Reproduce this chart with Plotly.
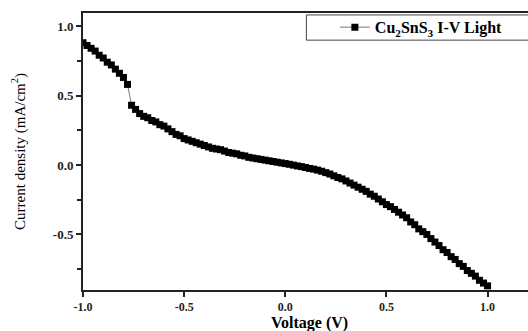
import plotly.graph_objects as go

# I-V sweep under illumination
voltage = [
    -1.00, -0.98, -0.96, -0.94, -0.92, -0.90, -0.88, -0.86, -0.84, -0.82,
    -0.80, -0.78, -0.76, -0.74, -0.72, -0.70, -0.68, -0.66, -0.64, -0.62,
    -0.60, -0.58, -0.56, -0.54, -0.52, -0.50, -0.48, -0.46, -0.44, -0.42,
    -0.40, -0.38, -0.36, -0.34, -0.32, -0.30, -0.28, -0.26, -0.24, -0.22,
    -0.20, -0.18, -0.16, -0.14, -0.12, -0.10, -0.08, -0.06, -0.04, -0.02,
    0.00, 0.02, 0.04, 0.06, 0.08, 0.10, 0.12, 0.14, 0.16, 0.18,
    0.20, 0.22, 0.24, 0.26, 0.28, 0.30, 0.32, 0.34, 0.36, 0.38,
    0.40, 0.42, 0.44, 0.46, 0.48, 0.50, 0.52, 0.54, 0.56, 0.58,
    0.60, 0.62, 0.64, 0.66, 0.68, 0.70, 0.72, 0.74, 0.76, 0.78,
    0.80, 0.82, 0.84, 0.86, 0.88, 0.90, 0.92, 0.94, 0.96, 0.98,
    1.00,
]
current_density = [
    0.88, 0.86, 0.84, 0.82, 0.79, 0.77, 0.74, 0.72, 0.69, 0.66,
    0.63, 0.58, 0.43, 0.40, 0.37, 0.35, 0.34, 0.32, 0.31, 0.29,
    0.28, 0.26, 0.24, 0.22, 0.21, 0.19, 0.18, 0.17, 0.16, 0.15,
    0.14, 0.13, 0.12, 0.115, 0.11, 0.10, 0.09, 0.085, 0.08, 0.07,
    0.065, 0.055, 0.05, 0.045, 0.04, 0.035, 0.03, 0.025, 0.02, 0.015,
    0.01, 0.005, -0.001, -0.007, -0.012, -0.018, -0.025, -0.03, -0.037, -0.045,
    -0.055, -0.065, -0.078, -0.09, -0.10, -0.115, -0.13, -0.145, -0.16, -0.175,
    -0.19, -0.21, -0.225, -0.245, -0.265, -0.285, -0.30, -0.32, -0.34, -0.36,
    -0.38, -0.41, -0.43, -0.46, -0.48, -0.50, -0.53, -0.555, -0.58, -0.61,
    -0.63, -0.66, -0.68, -0.71, -0.73, -0.76, -0.78, -0.80, -0.83, -0.85,
    -0.87,
]

x_ticks = [-1.0, -0.5, 0.0, 0.5, 1.0]
x_tick_labels = ["-1.0", "-0.5", "0.0", "0.5", "1.0"]
y_ticks = [-0.5, 0.0, 0.5, 1.0]
y_tick_labels = ["-0.5", "0.0", "0.5", "1.0"]

FONT = "Liberation Serif, Times New Roman, serif"
AXIS_COLOR = "#222222"

fig = go.Figure()
fig.add_trace(go.Scatter(
    x=voltage,
    y=current_density,
    mode="lines+markers",
    name="<b>Cu<sub>2</sub>SnS<sub>3</sub> I-V Light</b>",
    line=dict(color="#555555", width=0.8),
    marker=dict(symbol="square", size=7, color="black"),
))

# legend frame, running off the right edge of the page
fig.add_shape(
    type="rect", xref="paper", yref="paper",
    x0=0.502, x1=1.05, y0=0.902, y1=0.993,
    line=dict(color="#444444", width=1),
    fillcolor="white", layer="below",
)

# x-axis title, set low near the bottom edge
fig.add_annotation(
    text="<b>Voltage (V)</b>",
    xref="paper", yref="paper",
    x=0.509, y=-0.079,
    xanchor="center", yanchor="top",
    showarrow=False,
    font=dict(family=FONT, size=16, color="black"),
)

fig.update_layout(
    width=528,
    height=331,
    margin=dict(l=83, r=0, t=13, b=41, autoexpand=False),
    paper_bgcolor="white",
    plot_bgcolor="white",
    font=dict(family=FONT, color="black"),
    showlegend=True,
    legend=dict(
        x=0.566, xanchor="left",
        y=1.01, yanchor="top",
        bgcolor="rgba(0,0,0,0)",
        borderwidth=0,
        font=dict(family=FONT, size=16, color="black"),
        tracegroupgap=0,
    ),
    xaxis=dict(
        range=[-1.0, 1.2],
        automargin=False,
        tickmode="array",
        tickvals=x_ticks,
        ticktext=["<b>%s</b>" % t for t in x_tick_labels],
        ticks="outside",
        ticklen=5,
        tickwidth=2,
        tickcolor=AXIS_COLOR,
        tickfont=dict(family=FONT, size=12, color=AXIS_COLOR),
        showline=True,
        linecolor=AXIS_COLOR,
        linewidth=2,
        mirror=True,
        showgrid=False,
        zeroline=False,
    ),
    yaxis=dict(
        range=[-0.9, 1.094],
        automargin=False,
        tickmode="array",
        tickvals=y_ticks,
        ticktext=["<b>%s</b>" % t for t in y_tick_labels],
        ticks="outside",
        ticklen=5,
        tickwidth=2,
        tickcolor=AXIS_COLOR,
        tickfont=dict(family=FONT, size=13, color=AXIS_COLOR),
        minor=dict(
            tickvals=[-0.75, -0.25, 0.25, 0.75],
            ticks="outside",
            ticklen=4,
            tickwidth=2,
            tickcolor=AXIS_COLOR,
        ),
        showline=True,
        linecolor=AXIS_COLOR,
        linewidth=2,
        mirror=False,
        showgrid=False,
        zeroline=False,
        title=dict(
            text="Current density (mA/cm<sup>2</sup>)",
            font=dict(family=FONT, size=15, color="black"),
            standoff=24,
        ),
    ),
)

fig.write_html("out.html")
